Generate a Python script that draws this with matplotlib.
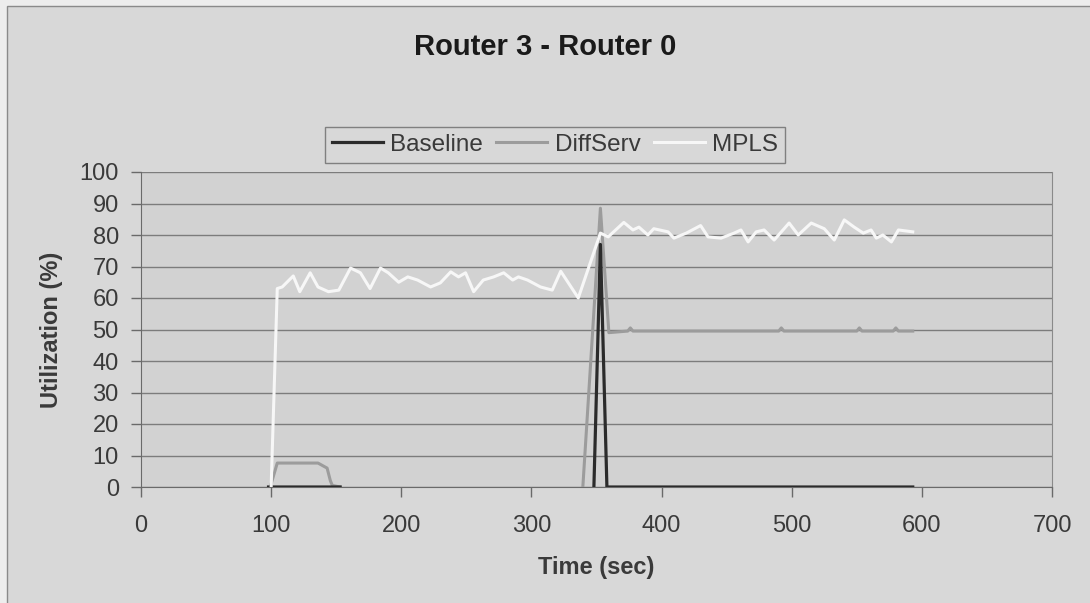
import matplotlib
matplotlib.use("Agg")
import matplotlib.pyplot as plt
from matplotlib.patches import Rectangle
import numpy as np

plt.rcParams['font.family'] = ['Liberation Sans', 'DejaVu Sans']

# Link utilization samples, Router 3 -> Router 0
mpls_t = [100, 104.7, 108.5, 117, 122, 130, 136, 144, 152, 161, 168.6, 176, 184, 190,
          198, 205, 212.5, 222.5, 230, 238, 244, 249.4, 255.6, 263, 271, 278.7, 285.6,
          290, 297, 307, 316, 322.5, 336, 353, 359, 371, 378, 382.6, 389.5, 394, 405,
          409.5, 419, 430, 435.7, 445.7, 455.7, 461, 466.5, 472.7, 478.8, 486.5, 498,
          505, 515, 525, 532.7, 540.4, 548, 555, 561, 565, 570, 576.6, 582, 593]
mpls_u = [0, 63, 63.5, 67, 62, 68, 63.5, 62, 62.5, 69.5, 68, 63, 69.5, 68,
          65, 66.7, 65.7, 63.5, 64.8, 68.3, 66.7, 68, 62, 65.7, 66.7, 68, 65.7,
          66.7, 65.7, 63.5, 62.5, 68.5, 60, 80.6, 79.4, 84, 81.6, 82.5, 80, 82, 81,
          79, 80.6, 83, 79.4, 79, 80.6, 81.6, 77.8, 81, 81.6, 78.4, 83.8,
          80, 83.8, 82, 78.4, 84.8, 82.5, 80.6, 81.6, 79, 80, 77.8, 81.6, 81]

diff_t = [99.3, 104.7, 136, 143, 145.5, 147, 153, np.nan,
          339.5, 353, 359.5, 374, 376, 378, 490, 492, 494, 550, 552, 554, 578, 580, 582, 593]
diff_u = [0, 7.6, 7.6, 6, 2, 0.5, 0, np.nan,
          0, 88.5, 49, 49.5, 50.5, 49.5, 49.5, 50.5, 49.5, 49.5, 50.5, 49.5, 49.5, 50.5, 49.5, 49.5]

base_t = [98, 153, np.nan, 348, 353, 358, 593]
base_u = [0, 0, np.nan, 0, 77, 0, 0]

x_ticks = [0, 100, 200, 300, 400, 500, 600, 700]
y_ticks = [0, 10, 20, 30, 40, 50, 60, 70, 80, 90, 100]

W, H = 1090, 603
fig = plt.figure(figsize=(W / 100, H / 100), dpi=100, facecolor='#ededed')

# chart area panel with a thin frame, kept behind the axes
fig.patches.append(Rectangle((7 / W, -0.05), 1.1, 1 - 6 / H + 0.05, transform=fig.transFigure,
                             facecolor='#d8d8d8', edgecolor='#8a8a8a', linewidth=1.0, zorder=-10))

ax = fig.add_axes([141 / W, 1 - 487 / H, (1052 - 141) / W, (487 - 172) / H])
ax.set_facecolor('#d2d2d2')

ax.plot(base_t, base_u, color='#2b2b2b', lw=2.3, label='Baseline', zorder=4)
ax.plot(diff_t, diff_u, color='#9c9c9c', lw=2.2, label='DiffServ', zorder=3)
ax.plot(mpls_t, mpls_u, color='#f7f7f7', lw=2.2, label='MPLS', zorder=5)

ax.set_xlim(0, 700)
ax.set_ylim(0, 100)
ax.set_xticks(x_ticks)
ax.set_yticks(y_ticks)
ax.yaxis.grid(True, color='#7c7c7c', lw=1.0)
ax.set_axisbelow(True)

ax.spines['top'].set_visible(False)
ax.spines['right'].set_color('#8a8a8a')
ax.spines['left'].set_color('#6a6a6a')
ax.spines['bottom'].set_color('#6a6a6a')

ax.tick_params(axis='both', direction='out', length=7, width=1, color='#6a6a6a',
               labelsize=17, labelcolor='#3a3a3a')
ax.tick_params(axis='x', pad=13)
ax.tick_params(axis='y', pad=9)

ax.set_xlabel('Time (sec)', fontsize=17, fontweight='bold', color='#3a3a3a', labelpad=14)
ax.set_ylabel('Utilization (%)', fontsize=17, fontweight='bold', color='#3a3a3a', labelpad=12)

fig.text(545 / W, 1 - 47 / H, 'Router 3 - Router 0', ha='center', va='center',
         fontsize=21, fontweight='bold', color='#1a1a1a')

leg = fig.legend(loc='center', bbox_to_anchor=(555 / W, 1 - 145 / H), ncol=3,
                 fontsize=17.5, frameon=True, fancybox=False, handlelength=2.1,
                 handletextpad=0.3, columnspacing=0.55, borderpad=0.3)
leg.get_frame().set_facecolor('#d8d8d8')
leg.get_frame().set_edgecolor('#6a6a6a')
leg.get_frame().set_linewidth(1.0)
for t in leg.get_texts():
    t.set_color('#3a3a3a')

fig.savefig('out.png', dpi=100, facecolor=fig.get_facecolor())
